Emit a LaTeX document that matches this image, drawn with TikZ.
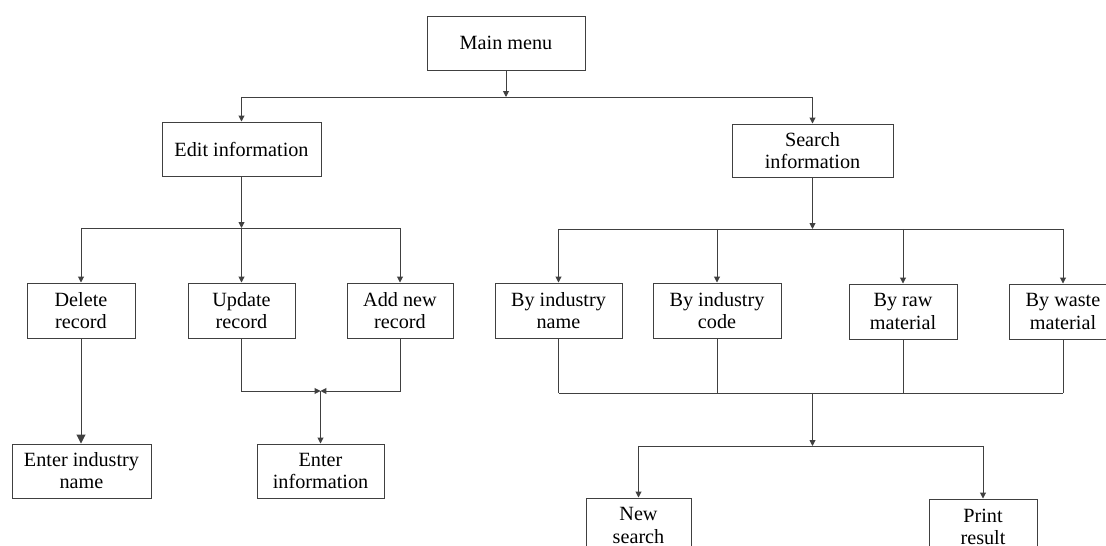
\documentclass[tikz,border=0pt]{standalone}
\usepackage{fontspec}
\setmainfont{Liberation Serif}
\usetikzlibrary{arrows.meta}

\begin{document}
\begin{tikzpicture}[x=0.02cm,y=-0.02cm,
  menubox/.style={draw=black!75, line width=0.55pt, align=center, inner sep=0pt, font=\fontsize{11.5}{12.6}\selectfont},
  flow/.style={draw=black!75, line width=0.55pt},
  tip/.style={flow, -{Triangle[length=3.4pt,width=3.4pt]}},
  bigtip/.style={flow, -{Triangle[length=5pt,width=5pt]}}]
\useasboundingbox (0,0) rectangle (1106,546);

\node[menubox, minimum width=3.16cm, minimum height=1.08cm] (mainMenu) at (506,43) {Main menu};
\node[menubox, minimum width=3.18cm, minimum height=1.08cm] (editInfo) at (241.5,149) {Edit information};
\node[menubox, minimum width=3.22cm, minimum height=1.06cm] (searchInfo) at (812.5,150.5) {Search\\information};

\node[menubox, minimum width=2.16cm, minimum height=1.1cm] (delRec) at (81,310.5) {Delete\\record};
\node[menubox, minimum width=2.14cm, minimum height=1.1cm] (updRec) at (241.5,310.5) {Update\\record};
\node[menubox, minimum width=2.12cm, minimum height=1.1cm] (addRec) at (400,310.5) {Add new\\record};
\node[menubox, minimum width=2.54cm, minimum height=1.1cm] (byName) at (558.5,310.5) {By industry\\name};
\node[menubox, minimum width=2.56cm, minimum height=1.1cm] (byCode) at (717,310.5) {By industry\\code};
\node[menubox, minimum width=2.16cm, minimum height=1.1cm] (byRaw) at (903,311.5) {By raw\\material};
\node[menubox, minimum width=2.16cm, minimum height=1.1cm] (byWaste) at (1063,311.5) {By waste\\material};

\node[menubox, minimum width=2.78cm, minimum height=1.08cm] (enterName) at (81.5,471) {Enter industry\\name};
\node[menubox, minimum width=2.54cm, minimum height=1.08cm] (enterInfo) at (320.5,471) {Enter\\information};
\node[menubox, minimum width=2.1cm, minimum height=1.1cm] (newSearch) at (638.5,525.5) {New\\search};
\node[menubox, minimum width=2.16cm, minimum height=1.1cm] (printRes) at (983,526.5) {Print\\result};

\coordinate (mainJoin) at (506,97);
\coordinate (editJoin) at (241.5,228);
\coordinate (searchJoin) at (812.5,229);
\coordinate (recJoin) at (320.5,391);
\coordinate (byJoin) at (812.5,393);
\coordinate (resJoin) at (812.5,446);

\draw[tip] (mainMenu) -- (mainJoin);
\draw[flow] (mainJoin -| editInfo) -- (mainJoin -| searchInfo);
\draw[tip] (mainJoin -| editInfo) -- (editInfo);
\draw[tip] (mainJoin -| searchInfo) -- (searchInfo);

\draw[tip] (editInfo) -- (editJoin);
\draw[flow] (editJoin -| delRec) -- (editJoin -| addRec);
\foreach \n in {delRec,updRec,addRec}
  \draw[tip] (editJoin -| \n) -- (\n);

\draw[tip] (searchInfo) -- (searchJoin);
\draw[flow] (searchJoin -| byName) -- (searchJoin -| byWaste);
\foreach \n in {byName,byCode,byRaw,byWaste}
  \draw[tip] (searchJoin -| \n) -- (\n);

\draw[bigtip] (delRec.south) -- (delRec.south |- enterName.north);

\draw[tip] (updRec) |- (recJoin);
\draw[tip] (addRec) |- (recJoin);
\draw[tip] (recJoin) -- (enterInfo);

\foreach \n in {byName,byCode,byRaw,byWaste}
  \draw[flow] (\n) -- (byJoin -| \n);
\draw[flow] (byJoin -| byName) -- (byJoin -| byWaste);
\draw[tip] (byJoin) -- (resJoin);
\draw[flow] (resJoin -| newSearch) -- (resJoin -| printRes);
\draw[tip] (resJoin -| newSearch) -- (newSearch);
\draw[tip] (resJoin -| printRes) -- (printRes);
\end{tikzpicture}
\end{document}
